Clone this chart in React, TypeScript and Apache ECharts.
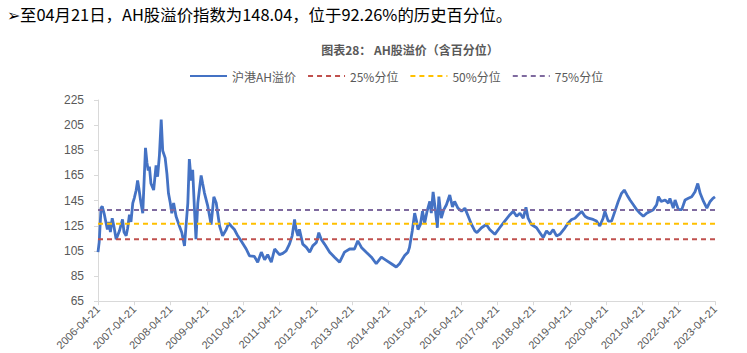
import React, { useEffect, useRef } from "react";
import * as echarts from "echarts";

// x: months since 2006-04-21 ; y: AH premium index
const monthsSinceStart = [
  0, 0.4, 1.0, 1.4, 2.1, 3.1, 3.6, 4.1, 4.7, 5.3, 6.0, 7.1, 8.1, 8.6, 9.3, 9.8, 10.4, 10.9, 11.5, 12.0,
  12.6, 13.1, 13.5, 14.2, 14.8, 15.3, 15.7, 16.2, 16.6, 17.0, 17.5, 18.4, 19.2, 19.7, 20.3, 20.9, 21.4, 22.2, 22.8, 23.3,
  23.9, 24.4, 25.0, 25.8, 26.9, 27.7, 28.6, 29.1, 29.7, 30.2, 30.8, 31.3, 31.9, 32.4, 33.0, 34.1, 34.6, 35.2, 36.3, 37.4,
  38.3, 39.1, 40.2, 41.2, 42.4, 43.2, 44.0, 45.1, 46.2, 47.3, 49.0, 50.1, 51.7, 52.8, 54.0, 55.1, 56.1, 57.3, 58.4, 60.0,
  61.1, 62.2, 63.3, 64.2, 65.0, 65.5, 66.1, 66.6, 67.7, 68.9, 70.0, 71.0, 72.2, 73.0, 73.8, 74.9, 76.6, 78.2, 79.9, 81.5,
  83.2, 84.8, 85.9, 87.1, 88.7, 90.4, 92.0, 93.7, 95.3, 97.0, 98.6, 99.7, 101.4, 102.5, 103.0, 103.9, 104.7, 105.3, 105.8, 106.6,
  107.3, 108.0, 108.8, 109.7, 110.2, 110.8, 111.6, 112.2, 112.7, 113.5, 114.3, 115.2, 116.3, 117.2, 117.9, 119.0, 120.2, 121.3, 122.4, 123.5,
  124.6, 125.3, 126.8, 128.4, 129.5, 131.2, 132.8, 134.5, 136.2, 137.3, 138.4, 139.5, 140.6, 141.5, 142.2, 143.3, 145.0, 146.1, 147.2, 148.3,
  149.4, 150.5, 151.6, 152.7, 154.4, 155.5, 156.6, 157.7, 158.8, 159.9, 161.0, 162.1, 163.7, 164.8, 165.9, 167.0, 167.6, 168.7, 169.8, 170.9,
  172.0, 173.1, 174.0, 174.9, 175.9, 177.0, 178.1, 179.2, 180.3, 181.4, 182.5, 183.6, 184.7, 185.3, 186.2, 187.5, 188.6, 189.1, 190.2, 190.8,
  191.9, 193.0, 194.1, 195.2, 196.3, 197.4, 198.3, 199.1, 200.2, 201.3, 202.4, 203.3, 204.0,
];
const premium = [
  104, 112, 139, 140.4, 134, 122, 128, 120, 131, 124, 114.3, 121, 130, 120, 117, 123, 133.8, 128, 143, 147,
  153, 161, 155, 143, 135, 163.8, 187, 175, 169, 172, 158.6, 153.4, 173, 164, 180.7, 209.4, 184.6, 179, 166, 150.8,
  143, 135, 143, 132.6, 124.8, 119.6, 109, 124.8, 143, 178, 161, 169.4, 137.8, 114.3, 143, 165, 158.6, 151, 140.6, 126,
  148, 143, 124.8, 117, 122, 127, 124.8, 122, 117, 113, 106.5, 101, 100.6, 96, 104, 98, 102, 96, 106.5, 102,
  103, 105, 110.4, 117, 130, 121.8, 117, 122.1, 110.4, 107.8, 104, 109, 111.7, 119.5, 114.3, 110.4, 104, 100, 96, 104,
  106.5, 106.5, 113, 107.8, 104, 100, 94.8, 100, 97.5, 94.8, 92.2, 94.8, 101.3, 104, 107.8, 120.9, 135, 129, 122, 126,
  136.5, 127, 136.5, 144.3, 135, 152, 136.5, 123.4, 148.2, 131, 137.6, 141.7, 149.5, 140, 144.3, 139, 136.5, 139, 132.6, 126,
  120.9, 119.6, 123.4, 126, 122, 118.2, 123.4, 128.7, 133.8, 136.5, 132.6, 135, 131, 139.6, 131, 126, 123.4, 119.5, 115.6, 120.9,
  118.2, 122, 116.9, 118.2, 123.4, 127.3, 130, 131, 133.8, 136.4, 132.6, 131, 130, 128.7, 124.8, 131, 136.4, 128.7, 128.7, 136.4,
  144.3, 150.8, 153.4, 149.5, 145.5, 141.7, 137.8, 135, 132.6, 135, 136.4, 137.8, 141.7, 148.2, 144.3, 145.5, 143, 146.8, 139, 145.5,
  137.8, 137.8, 145.5, 146.8, 148, 152, 158.6, 150.8, 144.3, 139, 144.3, 146.8, 148.04,
];

const pct25 = 114.3;
const pct50 = 126.6;
const pct75 = 137.6;

const seriesNames = ["沪港AH溢价", "25%分位", "50%分位", "75%分位"];
const topNote = "➢至04月21日，AH股溢价指数为148.04，位于92.26%的历史百分位。";
const chartTitle = "图表28： AH股溢价（含百分位）";
const startYear = 2006;
const lastMonth = 204;

export default function App() {
  const ref = useRef<HTMLDivElement>(null);
  useEffect(() => {
    if (!ref.current) return;
    const chart = echarts.init(ref.current, undefined, { renderer: "svg" });
    const lineData = monthsSinceStart.map((m, i) => [m, premium[i]]);
    const flat = (v: number) => [
      [0, v],
      [lastMonth, v],
    ];
    const dashed = (name: string, v: number, color: string) => ({
      name,
      type: "line",
      data: flat(v),
      symbol: "none",
      silent: true,
      z: 3,
      lineStyle: { color, width: 2, type: [5, 4] },
      itemStyle: { color },
    });
    chart.setOption({
      animation: false,
      backgroundColor: "#ffffff",
      title: [
        {
          text: topNote,
          left: 2,
          top: 1,
          textStyle: { fontSize: 16.4, fontWeight: "normal", color: "#000000", fontFamily: "'Noto Sans CJK SC', sans-serif" },
        },
        {
          text: chartTitle,
          left: 405,
          textAlign: "center",
          top: 38,
          textStyle: { fontSize: 12, fontWeight: "bold", color: "#595959", fontFamily: "'Noto Sans CJK SC', sans-serif" },
        },
      ],
      legend: {
        data: seriesNames,
        left: 184,
        top: 65,
        itemWidth: 37,
        itemHeight: 14,
        itemGap: 11,
        itemStyle: { opacity: 0 },
        textStyle: { fontSize: 12, color: "#595959", fontFamily: "'Noto Sans CJK SC', sans-serif" },
      },
      grid: { left: 98, right: 32, top: 100, bottom: 48, containLabel: false },
      xAxis: {
        type: "value",
        min: 0,
        max: lastMonth,
        interval: 12,
        axisLine: { lineStyle: { color: "#d9d9d9" } },
        axisTick: { show: true, length: 4, lineStyle: { color: "#d9d9d9" } },
        splitLine: { show: false },
        axisLabel: {
          rotate: 45,
          fontSize: 11,
          color: "#595959",
          margin: 6,
          fontFamily: "'Liberation Sans', sans-serif",
          formatter: (v: number) => `${startYear + Math.round(v / 12)}-04-21`,
        },
      },
      yAxis: {
        type: "value",
        min: 65,
        max: 225,
        interval: 20,
        axisLine: { show: true, lineStyle: { color: "#d9d9d9" } },
        axisTick: { show: true, length: 4, lineStyle: { color: "#d9d9d9" } },
        splitLine: { show: false },
        axisLabel: { fontSize: 12, color: "#595959", margin: 14, fontFamily: "'Liberation Sans', sans-serif" },
      },
      series: [
        {
          name: seriesNames[0],
          type: "line",
          data: lineData,
          symbol: "none",
          z: 2,
          lineStyle: { color: "#4472C4", width: 2.8 },
          itemStyle: { color: "#4472C4" },
        },
        dashed(seriesNames[1], pct25, "#C0504D"),
        dashed(seriesNames[2], pct50, "#FFC000"),
        dashed(seriesNames[3], pct75, "#7F6A9F"),
      ],
    });
    return () => chart.dispose();
  }, []);
  return <div ref={ref} style={{ position: "fixed", left: 0, top: 0, width: 747, height: 353 }} />;
}
